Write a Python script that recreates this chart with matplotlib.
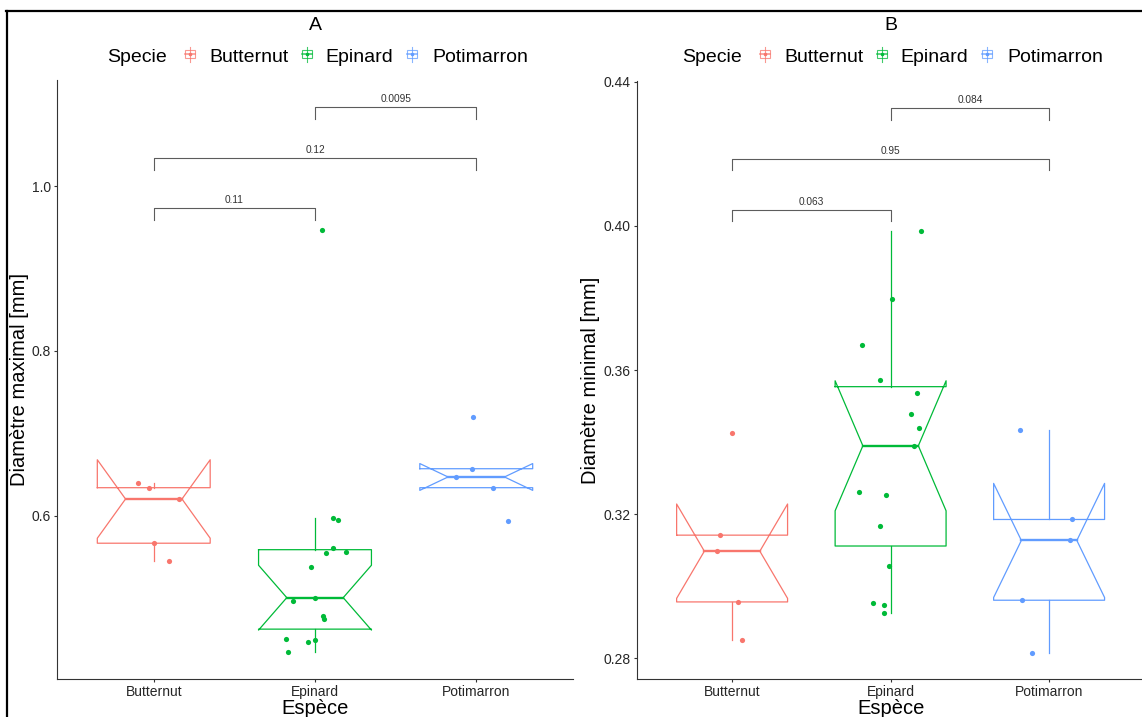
import numpy as np
import matplotlib.pyplot as plt
from matplotlib.patches import Rectangle

plt.rcParams['font.family'] = ['Liberation Sans', 'DejaVu Sans']

W, H = 1142, 717
species = ["Butternut", "Epinard", "Potimarron"]
colors = ["#F8766D", "#00BA38", "#619CFF"]

# diamètre maximal [mm]
max_butternut = [0.6396, 0.6343, 0.6206, 0.5670, 0.5455]
max_epinard = [0.5980, 0.5955, 0.5616, 0.5555, 0.5567, 0.5378, 0.5010, 0.4966,
               0.4792, 0.4748, 0.4509, 0.4469, 0.4497, 0.4348, 0.9467]
max_potimarron = [0.6573, 0.6473, 0.6343, 0.5936, 0.7204]

# diamètre minimal [mm]
min_butternut = [0.31417, 0.30972, 0.29564, 0.2852, 0.3426]
min_epinard = [0.3987, 0.3797, 0.3670, 0.35714, 0.35361, 0.34786, 0.34397, 0.33897,
               0.32603, 0.32528, 0.31675, 0.30556, 0.29536, 0.29472, 0.29258]
min_potimarron = [0.31852, 0.3127, 0.29611, 0.28158, 0.3433]

# jitter of the points around each category
jit_max = [[-0.099, -0.029, 0.155, 0.004, 0.097],
           [0.114, 0.142, 0.109, 0.068, 0.19, -0.025, 0.0, -0.134,
            0.047, 0.056, -0.181, -0.045, 0.0, -0.167, 0.046],
           [-0.029, -0.126, 0.105, 0.196, -0.019]]
jit_min = [[-0.078, -0.093, 0.04, 0.065, 0.0],
           [0.191, 0.011, -0.179, -0.069, 0.164, 0.128, 0.179, 0.149,
            -0.2, -0.027, -0.069, -0.008, -0.114, -0.044, -0.044],
           [0.145, 0.135, -0.168, -0.105, -0.185]]

# wilcoxon p-values between species pairs
pairs = [(1, 2), (1, 3), (2, 3)]
pvals_max = ["0.11", "0.12", "0.0095"]
pvals_min = ["0.063", "0.95", "0.084"]
bracket_y_max = [0.973, 1.034, 1.0955]
bracket_y_min = [0.40453, 0.41869, 0.43278]


def box_stats(v):
    v = np.sort(np.asarray(v))
    q1, med, q3 = np.percentile(v, [25, 50, 75])
    iqr = q3 - q1
    lo = v[v >= q1 - 1.5 * iqr].min()
    hi = v[v <= q3 + 1.5 * iqr].max()
    notch = 1.58 * iqr / np.sqrt(len(v))
    return q1, med, q3, lo, hi, med - notch, med + notch


def draw_box(ax, x, v, color, width=0.7):
    q1, med, q3, lo, hi, nlo, nhi = box_stats(v)
    if hi > q3:
        ax.plot([x, x], [q3, hi], color=color, lw=0.9)
    if lo < q1:
        ax.plot([x, x], [lo, q1], color=color, lw=0.9)
    x0, x1 = x - width / 2, x + width / 2
    ind = width * 0.25
    xs = [x0, x0, x0 + ind, x0, x0, x1, x1, x1 - ind, x1, x1, x0]
    ys = [q3, nhi, med, nlo, q1, q1, nlo, med, nhi, q3, q3]
    ax.plot(xs, ys, color=color, lw=0.9)
    ax.plot([x0 + ind, x1 - ind], [med, med], color=color, lw=1.7)


def panel(ax, groups, jitter, ylim, yticks, ylabels, brk_y, pvals, tip):
    for i, (v, j, c) in enumerate(zip(groups, jitter, colors)):
        x = i + 1
        draw_box(ax, x, v, c)
        ax.scatter(x + np.array(j), v, s=14, color=c, lw=0, zorder=3)
    for (a, b), y, p in zip(pairs, brk_y, pvals):
        ax.plot([a, a, b, b], [y - tip, y, y, y - tip], color="#5c5c5c", lw=0.8)
        ax.annotate(p, ((a + b) / 2, y), xytext=(0, 3.5), textcoords="offset points",
                    ha="center", va="baseline", fontsize=7.3, color="#333333")
    ax.set_xlim(0.4, 3.6)
    ax.set_ylim(*ylim)
    ax.set_xticks([1, 2, 3])
    ax.set_xticklabels(species)
    ax.set_yticks(yticks)
    ax.set_yticklabels(ylabels)
    for s in ["top", "right"]:
        ax.spines[s].set_visible(False)
    for s in ["left", "bottom"]:
        ax.spines[s].set_color("#333333")
        ax.spines[s].set_linewidth(0.8)
    ax.tick_params(length=2.5, width=0.8, color="#333333", labelsize=10,
                   labelcolor="#262626", pad=2)
    ax.set_facecolor("none")


def ax_rect(left, top, right, bottom):
    return [left / W, 1 - bottom / H, (right - left) / W, (bottom - top) / H]


fig = plt.figure(figsize=(W / 100, H / 100), dpi=100)

# overlay in pixel coordinates for frame, titles and legends
ov = fig.add_axes([0, 0, 1, 1])
ov.set_xlim(0, W)
ov.set_ylim(H, 0)
ov.axis("off")
ov.plot([6, W], [11, 11], color="black", lw=1.6)
ov.plot([6.5, 6.5], [11, H], color="black", lw=1.6)

axA = fig.add_axes(ax_rect(57, 80, 573, 679))
panel(axA, [max_butternut, max_epinard, max_potimarron], jit_max,
      (0.4024, 1.1285), [0.6, 0.8, 1.0], ["0.6", "0.8", "1.0"],
      bracket_y_max, pvals_max, 0.0145)

axB = fig.add_axes(ax_rect(637, 81, 1144.2, 679))
panel(axB, [min_butternut, min_epinard, min_potimarron], jit_min,
      (0.27425, 0.4402), [0.28, 0.32, 0.36, 0.40, 0.44],
      ["0.28", "0.32", "0.36", "0.40", "0.44"],
      bracket_y_min, pvals_min, 0.0033)


def header(cx, title, ylab, ylab_x):
    ov.text(cx, 30, title, ha="center", va="baseline", fontsize=14)
    ov.text(cx, 714.5, "Espèce", ha="center", va="baseline", fontsize=14.5)
    ov.text(ylab_x, 380, ylab, ha="center", va="center", rotation=90, fontsize=14.5)
    ly = 61.5
    ov.text(cx - 208.6, ly, "Specie", ha="left", va="baseline", fontsize=14)
    keys = [cx - 125.3, cx - 8.6, cx + 96.7]
    labs = [cx - 106.3, cx + 9.7, cx + 116.7]
    for k, l, name, c in zip(keys, labs, species, colors):
        ov.plot([k, k], [46.5, 61.5], color=c, lw=0.8, alpha=0.75)
        ov.add_patch(Rectangle((k - 5, 50), 10, 8, fill=True, facecolor="white",
                               edgecolor=c, lw=0.8, alpha=0.75))
        ov.plot([k - 5, k + 5], [54, 54], color=c, lw=1.2, alpha=0.75)
        ov.plot([k], [54], "o", ms=2.6, color=c, mew=0)
        ov.text(l, ly, name, ha="left", va="baseline", fontsize=14)


header(315.3, "A", "Diamètre maximal [mm]", 20)
header(890.7, "B", "Diamètre minimal [mm]", 590)

fig.savefig("out.png", dpi=100)
